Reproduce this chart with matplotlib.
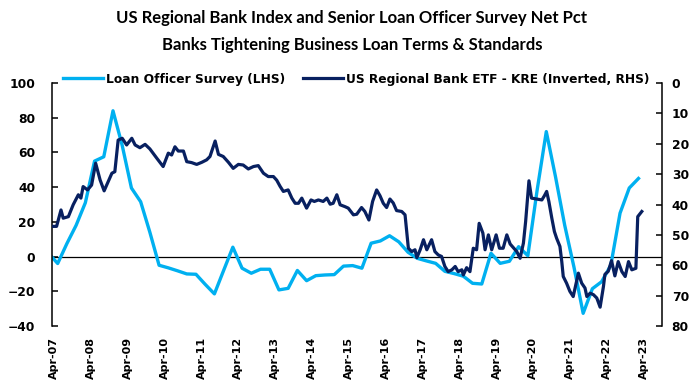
import numpy as np
import matplotlib
matplotlib.use("Agg")
import matplotlib.pyplot as plt

plt.rcParams["font.family"] = ["DejaVu Sans"]
plt.rcParams["font.weight"] = "bold"

# Senior Loan Officer Survey, net % tightening (quarterly, LHS)
survey = [2, -4, 7.5, 18, 31, 55, 57.5, 84, 64, 39.5,
          31.6, 14, -5, -6.5, -8.2, -10, -10.2, -16, -21.5, -8,
          5.4, -6.7, -9.6, -7.3, -7.3, -19.2, -18.3, -8, -13.9, -11,
          -10.6, -10.4, -5.5, -5.2, -6.7, 7.7, 9, 12, 8.5, 2.5,
          -1, -2.5, -3.9, -8.5, -9.8, -11.3, -15.4, -15.8, 1.9, -3.9,
          -2.7, 5.7, 0.5, 38, 72, 46, 18, -6, -32.7, -18.5,
          -14.5, -5, 25, 39.5, 45]
survey_t = 2007.1 + 0.25 * np.arange(len(survey))

# KRE price (RHS, inverted), decimal year
kre_t = [2007.19, 2007.32, 2007.44, 2007.50, 2007.64, 2007.77, 2007.91, 2007.98, 2008.04, 2008.16,
         2008.27, 2008.38, 2008.50, 2008.61, 2008.72, 2008.82, 2008.90, 2008.99, 2009.10, 2009.22,
         2009.36, 2009.45, 2009.58, 2009.72, 2009.85, 2010.04, 2010.21,
         2010.35, 2010.44, 2010.53, 2010.62, 2010.76, 2010.85, 2010.98, 2011.12, 2011.26, 2011.39,
         2011.48, 2011.62, 2011.71, 2011.84, 2011.98, 2012.11, 2012.25, 2012.38, 2012.52, 2012.66,
         2012.79, 2012.93, 2013.06, 2013.20,
         2013.29, 2013.38, 2013.47, 2013.60, 2013.70, 2013.79, 2013.88, 2013.97, 2014.10, 2014.22,
         2014.31, 2014.42, 2014.55, 2014.65, 2014.74, 2014.82, 2014.92, 2015.01, 2015.14, 2015.23,
         2015.37, 2015.46, 2015.59, 2015.68, 2015.79, 2015.89, 2016.00, 2016.09, 2016.18, 2016.27,
         2016.36, 2016.45, 2016.54, 2016.68, 2016.77, 2016.86, 2016.95, 2017.04, 2017.09, 2017.18,
         2017.27, 2017.36, 2017.49, 2017.58, 2017.67, 2017.76, 2017.85, 2017.94, 2018.04, 2018.13,
         2018.21, 2018.31, 2018.35, 2018.44, 2018.53, 2018.62, 2018.71, 2018.78, 2018.88, 2018.94,
         2019.03, 2019.12, 2019.24, 2019.33, 2019.43,
         2019.53, 2019.62, 2019.72, 2019.80, 2019.89, 2019.98, 2020.04, 2020.13, 2020.20, 2020.34,
         2020.48, 2020.55, 2020.61, 2020.67, 2020.75, 2020.82, 2020.88, 2020.97, 2021.02, 2021.06,
         2021.15, 2021.24, 2021.33, 2021.47, 2021.56, 2021.65, 2021.70, 2021.79, 2021.88, 2021.97,
         2022.06, 2022.15, 2022.19, 2022.28, 2022.37, 2022.46, 2022.55, 2022.65, 2022.74, 2022.83,
         2022.92, 2023.03, 2023.08, 2023.19]
kre = [47.2, 47.2, 41.8, 44.5, 44, 40.1, 36.8, 37.9, 34.1, 35.2,
       33.6, 26.4, 31.9, 35.5, 32.5, 29.7, 29.2, 18.8, 18.2, 20.4,
       18.2, 20.4, 21.3, 20.2, 21.7, 24.8, 27.5,
       23.1, 23.7, 21, 22.4, 22.4, 25.9, 26.2, 26.8, 26.1, 25.3,
       24.2, 19.1, 23.5, 24.2, 26.1, 28.1, 26.8, 27, 28.3, 27.5,
       27.2, 29.7, 30.8, 30.8,
       32, 34, 35.7, 35.2, 37.9, 39.6, 39.6, 37.9, 41.2, 38.5,
       39, 38.5, 39, 37.9, 39.9, 39.6, 36.8, 40.1, 40.7, 41.2,
       43.4, 43.2, 41, 42.3, 45.1, 39, 35.2, 37.1, 39.6, 41,
       38.2, 39.5, 42, 42.3, 43.4, 54.4, 55.5, 54.9, 57.5, 54.9,
       51.6, 54.9, 51.6, 55.5, 56.6, 57.1, 60.4, 62.1, 61.5, 60.4,
       62.1, 61.5, 63.2, 60.8, 62.1, 54.4, 54.9, 46.2, 49.4, 54.9,
       50, 54.9, 50, 54.4, 54.4,
       50, 53, 54.4, 55.5, 57.7, 52.7, 45.6, 32.2, 37.9, 38.2,
       38.5, 37.1, 35.7, 39, 44.5, 48.9, 51.1, 53.8, 58.8, 63.7,
       65.9, 68.6, 70.3, 62.6, 65.9, 67.5, 70.3, 69.2, 69.7, 70.8,
       73.8, 67, 63, 62, 58.5, 63.5, 58.8, 62.1, 63.7, 58.8,
       61.5, 61, 44, 42.3]

tick_t = 2007.25 + np.arange(17)
tick_labels = ["Apr-%02d" % (y % 100) for y in range(2007, 2024)]

light = "#00B0F0"
dark = "#082060"

fig = plt.figure(figsize=(6.97, 3.83), dpi=100)
ax = fig.add_axes([52 / 697, 1 - 326 / 383, 610 / 697, 243 / 383])
ax2 = ax.twinx()

ax.axhline(0, color="black", lw=0.9, zorder=1)
l1, = ax.plot(survey_t, survey, color=light, lw=2.4, label="Loan Officer Survey (LHS)")
l2, = ax2.plot(kre_t, kre, color=dark, lw=2.3, label="US Regional Bank ETF - KRE (Inverted, RHS)")

ax.set_xlim(2007.196, 2023.738)
ax.set_ylim(-40, 100)
ax.set_yticks(range(-40, 101, 20))
ax2.set_ylim(80, 0)
ax2.set_yticks(range(0, 81, 10))

ax.set_xticks(tick_t)
ax.set_xticklabels(tick_labels, rotation=90)
ax.tick_params(axis="x", length=0, pad=8, labelsize=8)
ax.tick_params(axis="y", direction="in", length=4, width=1.1, pad=12, labelsize=8.8)
ax2.tick_params(axis="y", direction="in", length=4, width=1.1, pad=7, labelsize=8.8)

for s in ["top", "right", "bottom"]:
    ax.spines[s].set_visible(False)
for s in ["top", "left", "bottom"]:
    ax2.spines[s].set_visible(False)
ax.spines["left"].set_linewidth(1.1)
ax2.spines["right"].set_linewidth(1.1)

fig.legend(handles=[l1, l2], loc="center left", bbox_to_anchor=(63 / 697, 1 - 79 / 383),
           ncol=2, frameon=False, fontsize=8.8, handlelength=3.3, handletextpad=0.25,
           columnspacing=1.4, borderpad=0, borderaxespad=0)

fig.text(0.505, 1 - 18 / 383, "US Regional Bank Index and Senior Loan Officer Survey Net Pct",
         ha="center", va="center", fontsize=12, fontweight="bold", family="Lato")
fig.text(0.505, 1 - 45 / 383, "Banks Tightening Business Loan Terms & Standards",
         ha="center", va="center", fontsize=12, fontweight="bold", family="Lato")

fig.savefig("out.png", dpi=100)
